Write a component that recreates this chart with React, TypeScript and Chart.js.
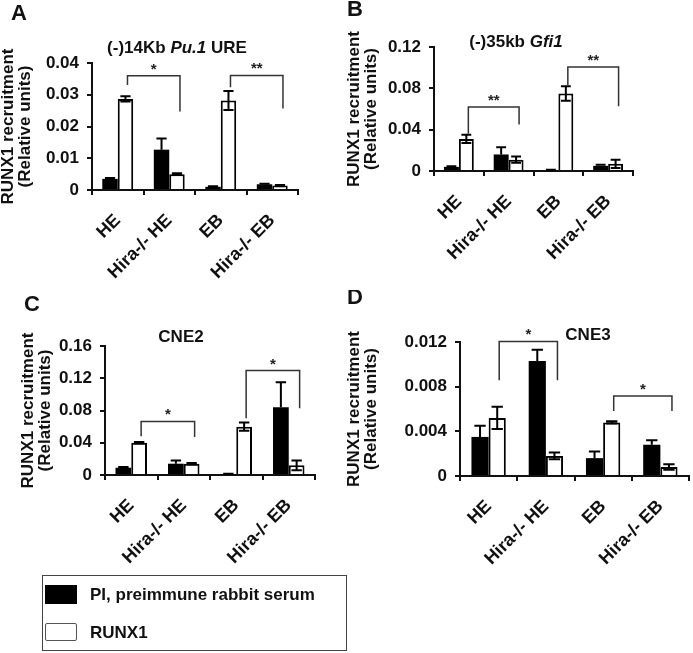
import React, { useEffect, useRef } from 'react';
import { Chart, registerables } from 'chart.js';
Chart.register(...registerables);

const FONT = '"Liberation Sans", Arial, Helvetica, sans-serif';

const categories = ['HE', 'Hira-/- HE', 'EB', 'Hira-/- EB'];
const seriesNames = ['PI, preimmune rabbit serum', 'RUNX1'];

// Panel A: (-)14Kb Pu.1 URE
const piA = [0.0035, 0.0127, 0.001, 0.0018];
const piErrA = [0.0003, 0.0035, 0.0002, 0.0002];
const runxA = [0.0287, 0.005, 0.0282, 0.0014];
const runxErrA = [0.0008, 0.0003, 0.003, 0.0002];
const yTicksA = [0, 0.01, 0.02, 0.03, 0.04];

// Panel B: (-)35kb Gfi1
const piB = [0.004, 0.016, 0.001, 0.005];
const piErrB = [0.0005, 0.007, 0.0002, 0.001];
const runxB = [0.031, 0.011, 0.075, 0.007];
const runxErrB = [0.004, 0.003, 0.007, 0.004];
const yTicksB = [0, 0.04, 0.08, 0.12];

// Panel C: CNE2
const piC = [0.009, 0.014, 0.001, 0.084];
const piErrC = [0.001, 0.004, 0.0005, 0.031];
const runxC = [0.04, 0.014, 0.06, 0.012];
const runxErrC = [0.001, 0.001, 0.005, 0.006];
const yTicksC = [0, 0.04, 0.08, 0.12, 0.16];

// Panel D: CNE3
const piD = [0.0035, 0.0103, 0.0016, 0.0028];
const piErrD = [0.001, 0.001, 0.0006, 0.0004];
const runxD = [0.0052, 0.0018, 0.0048, 0.0008];
const runxErrD = [0.001, 0.0003, 0.0001, 0.00025];
const yTicksD = [0, 0.004, 0.008, 0.012];

// significance brackets: [fromCategory, toCategory] on RUNX1 bars, heights in data units
const bracketsA = [
  { from: 0, to: 1, top: 0.036, leftEnd: 0.0331, rightEnd: 0.0247, label: '*' },
  { from: 2, to: 3, top: 0.0361, leftEnd: 0.0324, rightEnd: 0.0257, label: '**' },
];
const bracketsB = [
  { from: 0, to: 1, top: 0.062, leftEnd: 0.036, rightEnd: 0.045, label: '**' },
  { from: 2, to: 3, top: 0.1006, leftEnd: 0.083, rightEnd: 0.0626, label: '**' },
];
const bracketsC = [
  { from: 0, to: 1, top: 0.0664, leftEnd: 0.048, rightEnd: 0.0472, label: '*' },
  { from: 2, to: 3, top: 0.1295, leftEnd: 0.0704, rightEnd: 0.0827, label: '*' },
];
const bracketsD = [
  { from: 0, to: 1, top: 0.01205, leftEnd: 0.00857, rightEnd: 0.00857, label: '*' },
  { from: 2, to: 3, top: 0.00716, leftEnd: 0.00582, rightEnd: 0.00582, label: '*' },
];

const PANELS = [
  {
    letter: 'A', box: { x: 0, y: 0, w: 346, h: 290 }, plot: { l: 92, t: 63, r: 298, b: 190 }, padLeft: 0,
    title: [['(-)14Kb ', false], ['Pu.1', true], [' URE', false]], titlePos: { x: 177, y: 48 },
    letterPos: { x: 11, y: 14 },
    pi: piA, piErr: piErrA, runx: runxA, runxErr: runxErrA, ticks: yTicksA, brackets: bracketsA,
  },
  {
    letter: 'B', box: { x: 346, y: 0, w: 347, h: 290 }, plot: { l: 434, t: 47, r: 633, b: 171 }, padLeft: 0,
    title: [['(-)35kb ', false], ['Gfi1', true]], titlePos: { x: 170, y: 42 },
    letterPos: { x: 1, y: 10 },
    pi: piB, piErr: piErrB, runx: runxB, runxErr: runxErrB, ticks: yTicksB, brackets: bracketsB,
  },
  {
    letter: 'C', box: { x: 0, y: 290, w: 346, h: 283 }, plot: { l: 105, t: 346, r: 315, b: 475 }, padLeft: 20,
    title: [['CNE2', false]], titlePos: { x: 181, y: 47 },
    letterPos: { x: 24, y: 15 },
    pi: piC, piErr: piErrC, runx: runxC, runxErr: runxErrC, ticks: yTicksC, brackets: bracketsC,
  },
  {
    letter: 'D', box: { x: 346, y: 290, w: 347, h: 363 }, plot: { l: 460, t: 342, r: 689, b: 476 }, padLeft: 0,
    title: [['CNE3', false]], titlePos: { x: 242, y: 45 },
    letterPos: { x: 1, y: 8 },
    pi: piD, piErr: piErrD, runx: runxD, runxErr: runxErrD, ticks: yTicksD, brackets: bracketsD,
  },
];

const errorBarPlugin = {
  id: 'errorBars',
  afterDatasetsDraw(chart: any, _args: any, opts: any) {
    const { ctx } = chart;
    const y = chart.scales.y;
    chart.data.datasets.forEach((ds: any, di: number) => {
      const meta = chart.getDatasetMeta(di);
      const errs = opts.errors[di];
      const upOnly = di === 0;
      meta.data.forEach((bar: any, i: number) => {
        const v = ds.data[i];
        const e = errs[i];
        const x = bar.x;
        const base = y.getPixelForValue(v);
        const top = y.getPixelForValue(v + e);
        const bot = upOnly ? base : y.getPixelForValue(Math.max(0, v - e));
        const cap = bar.width * 0.33;
        ctx.save();
        ctx.strokeStyle = '#000';
        ctx.lineWidth = 2;
        ctx.beginPath();
        ctx.moveTo(x, top); ctx.lineTo(x, bot);
        ctx.moveTo(x - cap, top); ctx.lineTo(x + cap, top);
        if (!upOnly) { ctx.moveTo(x - cap, bot); ctx.lineTo(x + cap, bot); }
        ctx.stroke();
        ctx.restore();
      });
    });
  },
};

const bracketPlugin = {
  id: 'brackets',
  afterDraw(chart: any, _args: any, opts: any) {
    const { ctx } = chart;
    const y = chart.scales.y;
    const meta = chart.getDatasetMeta(1);
    opts.items.forEach((b: any) => {
      const x1 = meta.data[b.from].x + 2;
      const x2 = meta.data[b.to].x + 3;
      const yt = y.getPixelForValue(b.top);
      ctx.save();
      ctx.strokeStyle = '#333';
      ctx.lineWidth = 1.5;
      ctx.beginPath();
      ctx.moveTo(x1, y.getPixelForValue(b.leftEnd));
      ctx.lineTo(x1, yt);
      ctx.lineTo(x2, yt);
      ctx.lineTo(x2, y.getPixelForValue(b.rightEnd));
      ctx.stroke();
      ctx.fillStyle = '#222';
      ctx.font = `bold 15px ${FONT}`;
      ctx.textAlign = 'center';
      ctx.textBaseline = 'alphabetic';
      ctx.fillText(b.label, (x1 + x2) / 2, yt - 2);
      ctx.restore();
    });
  },
};

const decorPlugin = {
  id: 'decor',
  afterDraw(chart: any, _args: any, opts: any) {
    const { ctx } = chart;
    ctx.save();
    ctx.fillStyle = '#111';
    ctx.textBaseline = 'middle';
    ctx.textAlign = 'left';
    const segs = opts.title.map((s: any) => ({ text: s[0], font: `${s[1] ? 'italic ' : ''}bold 17px ${FONT}` }));
    let total = 0;
    segs.forEach((s: any) => { ctx.font = s.font; s.w = ctx.measureText(s.text).width; total += s.w; });
    let x = opts.titlePos.x - total / 2;
    segs.forEach((s: any) => { ctx.font = s.font; ctx.fillText(s.text, x, opts.titlePos.y); x += s.w; });
    ctx.font = `bold 22px ${FONT}`;
    ctx.fillText(opts.letter, opts.letterPos.x, opts.letterPos.y);
    ctx.restore();
  },
};

function Panel({ cfg }: { cfg: any }) {
  const ref = useRef<HTMLCanvasElement>(null);
  useEffect(() => {
    const { box, plot } = cfg;
    const yWidth = plot.l - box.x - cfg.padLeft;
    const xHeight = box.y + box.h - plot.b;
    const chart = new Chart(ref.current as HTMLCanvasElement, {
      type: 'bar',
      data: {
        labels: categories,
        datasets: [
          { label: seriesNames[0], data: cfg.pi, backgroundColor: '#000', borderColor: '#000', borderWidth: 0, barPercentage: 1, categoryPercentage: 0.6 },
          { label: seriesNames[1], data: cfg.runx, backgroundColor: '#fff', borderColor: '#000', borderWidth: 2, barPercentage: 1, categoryPercentage: 0.6 },
        ],
      },
      options: {
        responsive: false,
        maintainAspectRatio: false,
        animation: false,
        devicePixelRatio: 1,
        layout: { padding: { left: cfg.padLeft, top: plot.t - box.y, right: box.x + box.w - plot.r, bottom: 0 } },
        plugins: {
          legend: { display: false },
          tooltip: { enabled: false },
          title: { display: false },
          errorBars: { errors: [cfg.piErr, cfg.runxErr] },
          brackets: { items: cfg.brackets },
          decor: { title: cfg.title, titlePos: cfg.titlePos, letter: cfg.letter, letterPos: cfg.letterPos },
        } as any,
        scales: {
          x: {
            grid: { display: true, drawOnChartArea: false, drawTicks: true, tickLength: 5, color: '#111', lineWidth: 2, offset: true },
            border: { display: true, color: '#111', width: 2 },
            ticks: { color: '#111', font: { family: FONT, size: 18, weight: 'bold' }, minRotation: 45, maxRotation: 45, autoSkip: false, padding: 15 },
            afterFit: (s: any) => { s.height = xHeight; },
          },
          y: {
            min: 0,
            max: cfg.ticks[cfg.ticks.length - 1],
            afterBuildTicks: (s: any) => { s.ticks = cfg.ticks.map((v: number) => ({ value: v })); },
            grid: { display: true, drawOnChartArea: false, drawTicks: true, tickLength: 5, color: '#111', lineWidth: 2 },
            border: { display: true, color: '#111', width: 2 },
            ticks: { color: '#111', font: { family: FONT, size: 17, weight: 'bold' }, padding: 8, callback: (v: any) => String(v) },
            title: { display: true, text: ['RUNX1 recruitment', '(Relative units)'], color: '#111', font: { family: FONT, size: 17, weight: 'bold', lineHeight: 1.0 }, padding: 0 },
            afterFit: (s: any) => { s.width = yWidth; },
          },
        },
      },
      plugins: [errorBarPlugin, bracketPlugin, decorPlugin],
    } as any);
    return () => chart.destroy();
  }, [cfg]);
  return (
    <canvas
      ref={ref}
      width={cfg.box.w}
      height={cfg.box.h}
      style={{ position: 'absolute', left: cfg.box.x, top: cfg.box.y, width: cfg.box.w, height: cfg.box.h }}
    />
  );
}

export default function App() {
  return (
    <div style={{ position: 'absolute', left: 0, top: 0, width: 693, height: 653, background: '#fff', overflow: 'hidden' }}>
      {PANELS.map((p) => <Panel key={p.letter} cfg={p} />)}
      <div
        style={{
          position: 'absolute', left: 42, top: 575, width: 305, height: 76, boxSizing: 'border-box',
          border: '1.5px solid #444', fontFamily: FONT, fontWeight: 'bold', fontSize: 17, color: '#111',
        }}
      >
        <div style={{ position: 'absolute', left: 2, top: 9, width: 32, height: 19, background: '#000' }} />
        <div style={{ position: 'absolute', left: 47, top: 9, height: 20, lineHeight: '20px', whiteSpace: 'nowrap' }}>{seriesNames[0]}</div>
        <div style={{ position: 'absolute', left: 2, top: 47, width: 32, height: 18, boxSizing: 'border-box', border: '1.5px solid #555', borderRadius: 2, background: '#fff' }} />
        <div style={{ position: 'absolute', left: 47, top: 47, height: 20, lineHeight: '20px', whiteSpace: 'nowrap' }}>{seriesNames[1]}</div>
      </div>
    </div>
  );
}
